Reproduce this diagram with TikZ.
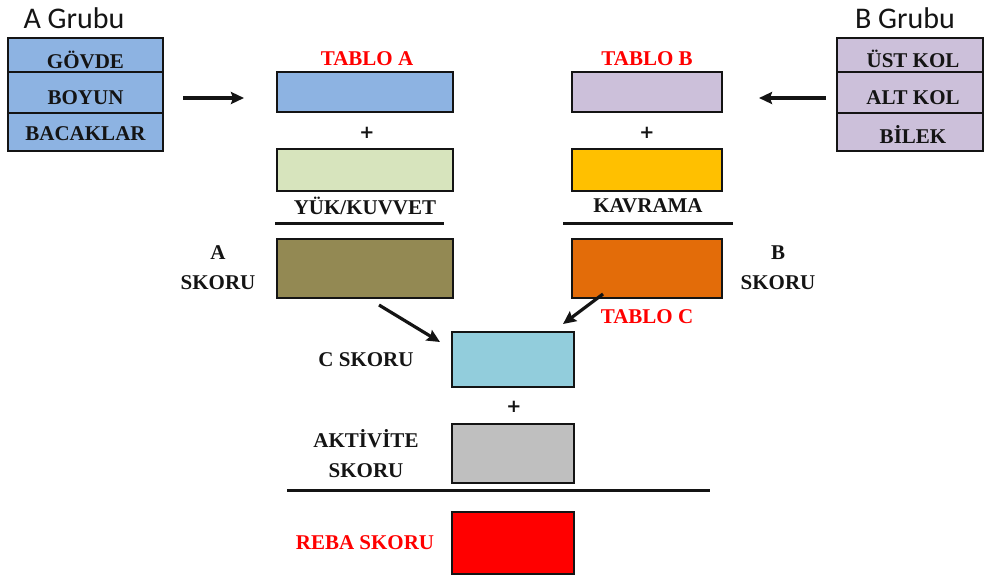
\documentclass[tikz,border=0pt]{standalone}
\usepackage{fontspec}
\setmainfont{Liberation Serif}
\newfontfamily\grpfont{Carlito}
\newfontfamily\plusfont{DejaVu Sans}
\usetikzlibrary{arrows.meta}

\definecolor{cBlue}{HTML}{8DB3E2}
\definecolor{cLilac}{HTML}{CCC0DA}
\definecolor{cPale}{HTML}{D7E4BD}
\definecolor{cAmber}{HTML}{FFC000}
\definecolor{cOlive}{HTML}{938953}
\definecolor{cOrange}{HTML}{E36C09}
\definecolor{cAqua}{HTML}{92CDDC}
\definecolor{cGray}{HTML}{BFBFBF}
\definecolor{cRed}{HTML}{FF0000}
\definecolor{cInk}{HTML}{141414}

\begin{document}
\begin{tikzpicture}[x=0.5pt,y=-0.5pt,
  cell/.style={draw=cInk, line width=1.3pt, inner sep=0pt},
  lab/.style={font=\bfseries\fontsize{10.5}{13}\selectfont, text=cInk, inner sep=0pt, align=center},
  redlab/.style={lab, text=cRed},
  plus/.style={font=\plusfont\bfseries\fontsize{9}{10}\selectfont, text=cInk, inner sep=0pt},
  grp/.style={font=\grpfont\fontsize{15}{18}\selectfont, text=cInk, inner sep=0pt},
  bar/.style={line width=1.5pt, draw=cInk},
  arr/.style={line width=1.6pt, draw=cInk, -{Stealth[length=6.5pt,width=6pt,inset=1pt]}}]

\useasboundingbox (0,0) rectangle (985,579);

% ---- group A ----
\node[grp] (grpA) at (74,18) {A Grubu};
\node[cell, fill=cBlue, minimum width=77.5pt, minimum height=17pt] (ga1) at (85.5,55) {};
\node[cell, fill=cBlue, minimum width=77.5pt, minimum height=20.5pt] (ga2) at (85.5,92.5) {};
\node[cell, fill=cBlue, minimum width=77.5pt, minimum height=19pt] (ga3) at (85.5,132) {};
\node[lab] (tga1) at (85.5,59.5) {GÖVDE};
\node[lab] (tga2) at (85.5,97.5) {BOYUN};
\node[lab] (tga3) at (85.5,134) {BACAKLAR};

% ---- group B ----
\node[grp] (grpB) at (905,18) {B Grubu};
\node[cell, fill=cLilac, minimum width=73pt, minimum height=17pt] (gb1) at (910,55) {};
\node[cell, fill=cLilac, minimum width=73pt, minimum height=20.5pt] (gb2) at (910,92.5) {};
\node[cell, fill=cLilac, minimum width=73pt, minimum height=19pt] (gb3) at (910,132) {};
\node[lab] (tgb1) at (913,58.5) {ÜST KOL};
\node[lab] (tgb2) at (913,97.5) {ALT KOL};
\node[lab] (tgb3) at (913,134.5) {BİLEK};

% ---- arrows into the tables ----
\coordinate (aA1) at (183,98);
\coordinate (aA2) at (244,98);
\coordinate (aB1) at (826,98);
\coordinate (aB2) at (759,98);
\draw[arr] (aA1) -- (aA2);
\draw[arr] (aB1) -- (aB2);

% ---- table A column ----
\node[redlab] (ttA) at (367,59) {TABLO A};
\node[cell, fill=cBlue, minimum width=88pt, minimum height=20pt] (tabA) at (365,92) {};
\node[plus] (plA) at (367,133) {+};
\node[cell, fill=cPale, minimum width=88pt, minimum height=21pt] (yuk) at (365,170) {};
\node[lab] (tyuk) at (365,206) {YÜK/KUVVET};
\coordinate (lA1) at (275,223);
\coordinate (lA2) at (444,223);
\draw[bar] (lA1) -- (lA2);
\node[cell, fill=cOlive, minimum width=88pt, minimum height=29.5pt] (askor) at (365,268.5) {};
\node[lab] (taskor) at (218,268) {A\\[2pt]SKORU};

% ---- table B column ----
\node[redlab] (ttB) at (647,59) {TABLO B};
\node[cell, fill=cLilac, minimum width=75pt, minimum height=20pt] (tabB) at (647,92) {};
\node[plus] (plB) at (647,133) {+};
\node[cell, fill=cAmber, minimum width=75pt, minimum height=21pt] (kav) at (647,170) {};
\node[lab] (tkav) at (648,206) {KAVRAMA};
\coordinate (lB1) at (563,223);
\coordinate (lB2) at (733,223);
\draw[bar] (lB1) -- (lB2);
\node[cell, fill=cOrange, minimum width=75pt, minimum height=29.5pt] (bskor) at (647,268.5) {};
\node[lab] (tbskor) at (778,268) {B\\[2pt]SKORU};

% ---- table C ----
\coordinate (cA1) at (379,305);
\coordinate (cA2) at (440,342);
\coordinate (cB1) at (603,294);
\coordinate (cB2) at (563,324);
\draw[arr] (cA1) -- (cA2);
\draw[arr] (cB1) -- (cB2);
\node[redlab] (ttC) at (647,317) {TABLO C};
\node[cell, fill=cAqua, minimum width=61pt, minimum height=27.5pt] (cbox) at (513,359.5) {};
\node[lab] (tcbox) at (366,360) {C SKORU};
\node[plus] (plC) at (514,407) {+};
\node[cell, fill=cGray, minimum width=61pt, minimum height=29.5pt] (akt) at (513,453.5) {};
\node[lab] (takt) at (366,454) {AKTİVİTE\\[2pt]SKORU};
\coordinate (lC1) at (287,490);
\coordinate (lC2) at (710,490);
\draw[bar] (lC1) -- (lC2);
\node[cell, fill=cRed, minimum width=61pt, minimum height=31pt] (reba) at (513,543) {};
\node[redlab] (treba) at (365,543) {REBA SKORU};

\end{tikzpicture}
\end{document}
